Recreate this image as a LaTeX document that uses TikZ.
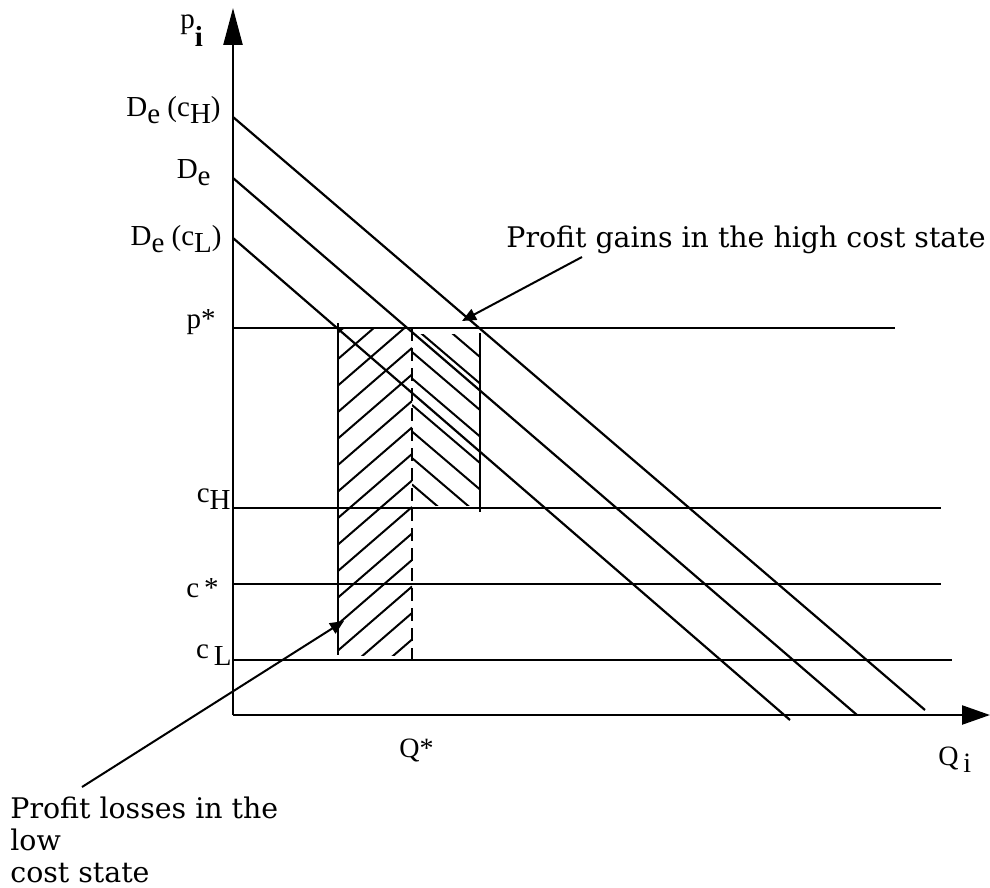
\documentclass[tikz,border=0pt]{standalone}
\usepackage{fontspec}
\setmainfont{Liberation Serif}
\newfontfamily\notefont{DejaVu Serif}
\usetikzlibrary{arrows.meta}
\newcommand{\lowsub}[1]{\raisebox{-3.5pt}{#1}}
\tikzset{
  axisline/.style={line width=1.2pt},
  yaxis/.style={axisline, -{Triangle[length=18.5pt, width=9.5pt]}},
  xaxis/.style={axisline, -{Triangle[length=14pt, width=9.5pt]}},
  dline/.style={line width=1.1pt},
  level/.style={line width=1.1pt},
  edgeline/.style={line width=1.1pt},
  qdash/.style={line width=1.1pt, dash pattern=on 6.5pt off 3.5pt},
  hatch/.style={line width=1pt},
  pointer/.style={line width=1pt, -{Triangle[length=7pt, width=6pt]}},
  axlabel/.style={inner sep=0pt, font=\fontsize{14.5}{17}\selectfont},
  qlabel/.style={inner sep=0pt, font=\fontsize{14}{17}\selectfont},
  note/.style={inner sep=0pt, font=\notefont\fontsize{14.2}{16}\selectfont},
}
\begin{document}
\begin{tikzpicture}[x=0.5pt, y=-0.5pt]
  \useasboundingbox (0,0) rectangle (990,888);
  % axes
  \coordinate (O) at (233,715);
  \coordinate (ytip) at (233,8);
  \coordinate (xtip) at (990,715);
  \draw[yaxis] (O) -- (ytip);
  \draw[xaxis] (O) -- (xtip);
  \node[axlabel, anchor=base west] (pi) at (180,29) {p\raisebox{-9pt}{\textbf{i}}};
  \node[qlabel, anchor=base west] (Qi) at (938,765) {Q\,\lowsub{i}};
  \node[qlabel, anchor=base west] (Qstar) at (399,757) {Q*};

  % demand curves
  \coordinate (DH) at (233,117);  \coordinate (DHend) at (925,710);
  \coordinate (D)  at (233,178);  \coordinate (Dend)  at (857,715);
  \coordinate (DL) at (233,238);  \coordinate (DLend) at (790,720);
  \draw[dline] (DH) -- (DHend);
  \draw[dline] (D) -- (Dend);
  \draw[dline] (DL) -- (DLend);
  \node[axlabel, anchor=base east] (lDH) at (221,117) {D\lowsub{e} (c\lowsub{H})};
  \node[axlabel, anchor=base east] (lD)  at (211,178) {D\lowsub{e}};
  \node[axlabel, anchor=base east] (lDL) at (222,245) {D\lowsub{e} (c\lowsub{L})};

  % price and cost levels
  \coordinate (pS) at (233,328); \coordinate (pSend) at (895,328);
  \coordinate (cH) at (233,508); \coordinate (cHend) at (941,508);
  \coordinate (cS) at (233,584); \coordinate (cSend) at (941,584);
  \coordinate (cL) at (233,660); \coordinate (cLend) at (952,660);
  \draw[level] (pS) -- (pSend);
  \draw[level] (cH) -- (cHend);
  \draw[level] (cS) -- (cSend);
  \draw[level] (cL) -- (cLend);
  \node[axlabel, anchor=base east] (lpS) at (216,328) {p*};
  \node[axlabel, anchor=base east] (lcH) at (231,502) {c\lowsub{H}};
  \node[axlabel, anchor=base east] (lcS) at (219,597) {c\,*};
  \node[axlabel, anchor=base east] (lcL) at (232,658) {c\,\lowsub{L}};

  % hatched areas
  \begin{scope}
    \clip (338,328) rectangle (412,655);
    \foreach \k in {-3,...,12}
      \draw[hatch] (412,{348+26.5*\k}) -- ++(-74,64);
  \end{scope}
  \begin{scope}
    \clip (412,334) rectangle (480,505);
    \foreach \k in {-3,...,12}
      \draw[hatch] (412,{352+26.5*\k}) -- ++(68,58);
  \end{scope}
  \coordinate (lt) at (338,323); \coordinate (lb) at (338,655);
  \coordinate (rt) at (480,333); \coordinate (rb) at (480,512);
  \coordinate (qt) at (412,328); \coordinate (qb) at (412,662);
  \draw[edgeline] (lt) -- (lb);
  \draw[edgeline] (rt) -- (rb);
  \draw[qdash] (qt) -- (qb);

  % notes
  \node[note, anchor=base west] (gains) at (506,247) {Profit gains in the high cost state};
  \coordinate (gainsfrom) at (582,257);
  \coordinate (gainsto) at (462,321);
  \draw[pointer] (gainsfrom) -- (gainsto);
  \node[note, anchor=base west, align=left] (losses) at (10,882) {Profit losses in the\\low\\cost state};
  \coordinate (lossesfrom) at (82,787);
  \coordinate (lossesto) at (344,621);
  \draw[pointer] (lossesfrom) -- (lossesto);
\end{tikzpicture}
\end{document}
